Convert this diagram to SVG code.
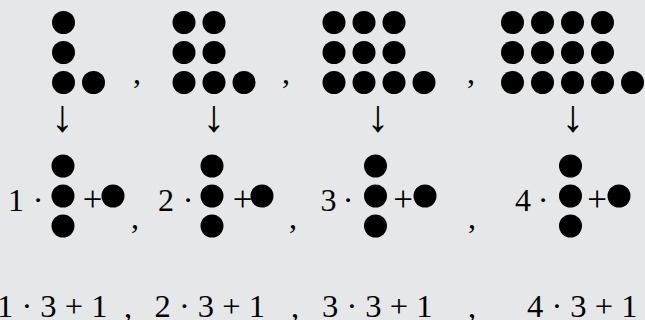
<svg xmlns="http://www.w3.org/2000/svg" width="645" height="320" viewBox="0 0 645 320">
<style>
.d{fill:#000}
.t{font-family:"Liberation Serif","Times New Roman",serif;fill:#000}
.m{font-size:32px}
.p{font-size:35px}
.a{font-size:45px}
.b{font-size:32.5px}
.c{text-anchor:middle}
</style>
<rect width="645" height="320" fill="#e6e7e9"/>
<g id="pattern1">
<circle class="d" cx="63.5" cy="22.5" r="11.5"/>
<circle class="d" cx="63.5" cy="52.5" r="11.5"/>
<circle class="d" cx="63.5" cy="82.5" r="11.5"/>
<circle class="d" cx="93.5" cy="82.5" r="11.5"/>
</g>
<g id="pattern2">
<circle class="d" cx="184" cy="22.5" r="11.5"/>
<circle class="d" cx="214" cy="22.5" r="11.5"/>
<circle class="d" cx="184" cy="52.5" r="11.5"/>
<circle class="d" cx="214" cy="52.5" r="11.5"/>
<circle class="d" cx="184" cy="82.5" r="11.5"/>
<circle class="d" cx="214" cy="82.5" r="11.5"/>
<circle class="d" cx="244" cy="82.5" r="11.5"/>
</g>
<g id="pattern3">
<circle class="d" cx="334" cy="22.5" r="11.5"/>
<circle class="d" cx="364" cy="22.5" r="11.5"/>
<circle class="d" cx="394" cy="22.5" r="11.5"/>
<circle class="d" cx="334" cy="52.5" r="11.5"/>
<circle class="d" cx="364" cy="52.5" r="11.5"/>
<circle class="d" cx="394" cy="52.5" r="11.5"/>
<circle class="d" cx="334" cy="82.5" r="11.5"/>
<circle class="d" cx="364" cy="82.5" r="11.5"/>
<circle class="d" cx="394" cy="82.5" r="11.5"/>
<circle class="d" cx="424" cy="82.5" r="11.5"/>
</g>
<g id="pattern4">
<circle class="d" cx="512.5" cy="22.5" r="11.5"/>
<circle class="d" cx="542.5" cy="22.5" r="11.5"/>
<circle class="d" cx="572.5" cy="22.5" r="11.5"/>
<circle class="d" cx="602.5" cy="22.5" r="11.5"/>
<circle class="d" cx="512.5" cy="52.5" r="11.5"/>
<circle class="d" cx="542.5" cy="52.5" r="11.5"/>
<circle class="d" cx="572.5" cy="52.5" r="11.5"/>
<circle class="d" cx="602.5" cy="52.5" r="11.5"/>
<circle class="d" cx="512.5" cy="82.5" r="11.5"/>
<circle class="d" cx="542.5" cy="82.5" r="11.5"/>
<circle class="d" cx="572.5" cy="82.5" r="11.5"/>
<circle class="d" cx="602.5" cy="82.5" r="11.5"/>
<circle class="d" cx="632.5" cy="82.5" r="11.5"/>
</g>
<g id="top-commas" class="t m c">
<text x="137" y="83">,</text>
<text x="286" y="83">,</text>
<text x="471" y="83">,</text>
</g>
<g id="connectors" class="t a c">
<text x="62.5" y="131">↓</text>
<text x="214" y="131">↓</text>
<text x="378" y="131">↓</text>
<text x="573" y="131">↓</text>
</g>
<g id="decomp1">
<text class="t m" x="8" y="211">1</text>
<text class="t m c" x="38" y="211">·</text>
<circle class="d" cx="63" cy="166" r="11.5"/>
<circle class="d" cx="63" cy="196" r="11.5"/>
<circle class="d" cx="63" cy="226" r="11.5"/>
<text class="t p c" x="92.5" y="211">+</text>
<circle class="d" cx="113" cy="196" r="11.5"/>
<text class="t m c" x="135" y="228">,</text>
</g>
<g id="decomp2">
<text class="t m" x="158" y="211">2</text>
<text class="t m c" x="188" y="211">·</text>
<circle class="d" cx="212" cy="166" r="11.5"/>
<circle class="d" cx="212" cy="196" r="11.5"/>
<circle class="d" cx="212" cy="226" r="11.5"/>
<text class="t p c" x="242.5" y="211">+</text>
<circle class="d" cx="262" cy="196" r="11.5"/>
<text class="t m c" x="293" y="228">,</text>
</g>
<g id="decomp3">
<text class="t m" x="320.5" y="211">3</text>
<text class="t m c" x="348" y="211">·</text>
<circle class="d" cx="375.5" cy="166" r="11.5"/>
<circle class="d" cx="375.5" cy="196" r="11.5"/>
<circle class="d" cx="375.5" cy="226" r="11.5"/>
<text class="t p c" x="403" y="211">+</text>
<circle class="d" cx="425" cy="196" r="11.5"/>
<text class="t m c" x="472" y="228">,</text>
</g>
<g id="decomp4">
<text class="t m" x="515" y="211">4</text>
<text class="t m c" x="543" y="211">·</text>
<circle class="d" cx="570.5" cy="166" r="11.5"/>
<circle class="d" cx="570.5" cy="196" r="11.5"/>
<circle class="d" cx="570.5" cy="226" r="11.5"/>
<text class="t p c" x="597" y="211">+</text>
<circle class="d" cx="619" cy="196" r="11.5"/>
</g>
<g id="formulas" class="t b">
<text x="-3" y="317">1 · 3 + 1</text>
<text class="c" x="128" y="317">,</text>
<text x="154.5" y="317">2 · 3 + 1</text>
<text class="c" x="295" y="317">,</text>
<text x="322" y="317">3 · 3 + 1</text>
<text class="c" x="472" y="317">,</text>
<text x="527" y="317">4 · 3 + 1</text>
</g>
</svg>
